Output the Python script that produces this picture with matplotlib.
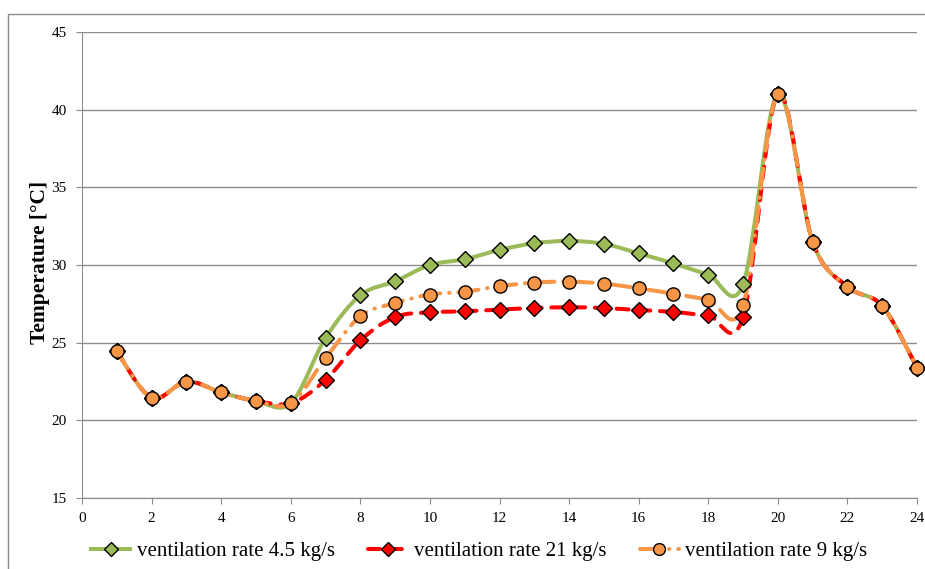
import matplotlib.pyplot as plt
import numpy as np
from matplotlib.path import Path
from matplotlib.patches import PathPatch, Rectangle
from matplotlib.lines import Line2D

plt.rcParams['font.family'] = ['Liberation Serif', 'DejaVu Serif']

hours = [1, 2, 3, 4, 5, 6, 7, 8, 9, 10, 11, 12, 13, 14, 15, 16, 17, 18, 19, 20, 21, 22, 23, 24]
temp_45 = [24.45, 21.45, 22.5, 21.8, 21.25, 21.1, 25.3, 28.05, 28.95, 30.0, 30.37, 30.97,
           31.4, 31.55, 31.36, 30.75, 30.1, 29.38, 28.75, 41.0, 31.5, 28.6, 27.37, 23.4]
temp_21 = [24.45, 21.45, 22.5, 21.8, 21.25, 21.1, 22.6, 25.15, 26.65, 26.95, 27.02, 27.13,
           27.23, 27.28, 27.23, 27.1, 26.98, 26.75, 26.65, 41.0, 31.5, 28.6, 27.37, 23.4]
temp_9 = [24.45, 21.45, 22.5, 21.8, 21.25, 21.1, 24.0, 26.7, 27.55, 28.1, 28.28, 28.63,
          28.87, 28.93, 28.8, 28.5, 28.15, 27.77, 27.4, 41.0, 31.5, 28.6, 27.37, 23.4]

labels = ["ventilation rate 4.5 kg/s", "ventilation rate 21 kg/s", "ventilation rate 9 kg/s"]
colors = ["#9BBB59", "#FF0000", "#F79646"]


def smooth_path(x, y):
    # Bezier path through the points, like a spreadsheet "smoothed line"
    p = np.column_stack([x, y]).astype(float)
    ext = np.vstack([p[0], p, p[-1]])
    verts = [p[0]]
    codes = [Path.MOVETO]
    for i in range(len(p) - 1):
        p0, p1, p2, p3 = ext[i], ext[i + 1], ext[i + 2], ext[i + 3]
        c1 = p1 + (p2 - p0) / 6.0
        c2 = p2 - (p3 - p1) / 6.0
        verts += [c1, c2, p2]
        codes += [Path.CURVE4] * 3
    return Path(verts, codes)


fig = plt.figure(figsize=(9.25, 5.69), dpi=100)
ax = fig.add_axes([82 / 925, 1 - 498 / 569, 835 / 925, 466 / 569])

# outer chart frame
fig.patches.append(Rectangle((8 / 925, -0.1), 1.2, 1 - 14 / 569 + 0.1, transform=fig.transFigure,
                             fill=False, edgecolor="#8c8c8c", linewidth=1.0))

series = [
    (temp_45, colors[0], "-", "D", 8.5),
    (temp_21, colors[1], (0, (3.0, 2.4)), "D", 8.5),
    (temp_9, colors[2], (0, (5.0, 2.2, 0.1, 2.2)), "o", 9.5),
]
handles = []
for (vals, c, ls, mk, ms), lab in zip(series, labels):
    patch = PathPatch(smooth_path(hours, vals), fill=False, edgecolor=c, linewidth=2.9,
                      linestyle=ls, capstyle="round", joinstyle="round", zorder=3)
    ax.add_patch(patch)
    ax.plot(hours, vals, linestyle="none", marker=mk, markersize=ms, markerfacecolor=c,
            markeredgecolor="black", markeredgewidth=1.0, zorder=4, clip_on=False)
    handles.append(Line2D([], [], color=c, linewidth=2.9, linestyle=ls, marker=mk,
                          markersize=ms - 1, markerfacecolor=c, markeredgecolor="black",
                          markeredgewidth=1.0, dash_capstyle="round", label=lab))

ax.set_xlim(0, 24)
ax.set_ylim(15, 45)
ax.set_xticks(range(0, 25, 2))
ax.set_yticks(range(15, 46, 5))
ax.yaxis.grid(True, color="#8c8c8c", linewidth=1.0)
ax.set_axisbelow(True)
for s in ["top", "right"]:
    ax.spines[s].set_visible(False)
for s in ["left", "bottom"]:
    ax.spines[s].set_color("#8c8c8c")
ax.tick_params(axis="both", colors="#8c8c8c", labelcolor="black", labelsize=11, length=4)
ax.tick_params(axis="y", pad=7)
ax.tick_params(axis="x", pad=6)
ax.set_ylabel("Temperature [°C]", fontsize=15.5, fontweight="bold")
ax.yaxis.set_label_coords(-32 / 835, 0.505)

fig.legend(handles=handles, loc="center", bbox_to_anchor=(0.518, 1 - 551 / 569), ncol=3,
           frameon=False, fontsize=15, handlelength=1.9, columnspacing=1.6, handletextpad=0.3)

fig.savefig("out.png", dpi=100)
